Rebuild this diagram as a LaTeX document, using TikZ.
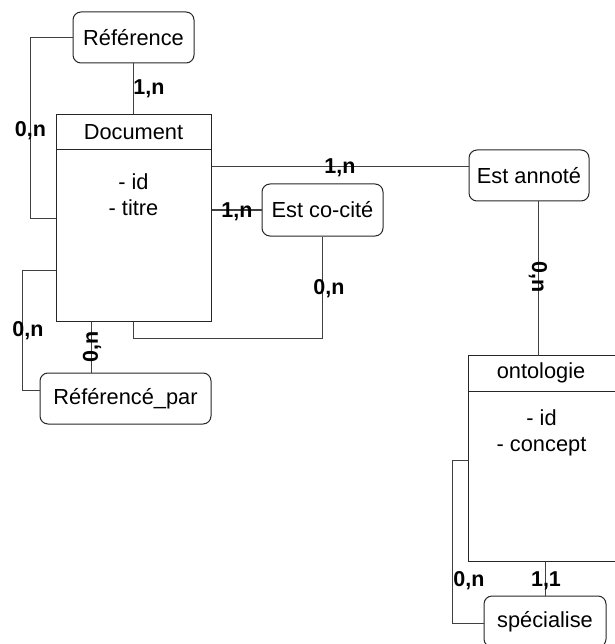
\documentclass[tikz,border=0pt]{standalone}
\usepackage{fontspec}
\setmainfont{Liberation Sans}
\usetikzlibrary{positioning, calc}
\tikzset{
  relation/.style={rectangle, rounded corners=8pt, draw=black!85, line width=1pt,
                 inner sep=0pt, minimum width=121pt, minimum height=51pt,
                 font=\fontsize{21.8}{26}\selectfont},
  entete/.style={rectangle, draw=black!85, line width=1pt, inner sep=0pt,
                 minimum height=35pt, font=\fontsize{21.8}{26}\selectfont},
  corps/.style={rectangle, draw=black!85, line width=1pt, inner sep=0pt,
                 minimum height=171pt},
  cadre/.style={draw=black!85, line width=1pt},
  attrs/.style={align=center, inner sep=0pt, font=\fontsize{21.8}{26}\selectfont},
  lien/.style={draw=black!75, line width=1pt},
  card/.style={inner sep=0pt, font=\fontsize{21.5}{24}\selectfont\bfseries},
}

\begin{document}
\begin{tikzpicture}[x=1pt, y=-1pt]
    \useasboundingbox (0,0) rectangle (614,644);
    %% Entite Document
    \node[entete, minimum width=155pt] (docHead) at (133.5,132.5) {Document};
    \node[corps, minimum width=155pt]  (docBody) at (133.5,235.5) {};
    \node[attrs] (docAttr) at (133.5,195) {- id\\- titre};
    %% Entite ontologie (coupee a droite : pas de bord droit)
    \node[entete, draw=none, minimum width=166pt] (ontoHead) at (552,373) {\hspace*{-22pt}ontologie};
    \node[corps, draw=none, minimum width=166pt]  (ontoBody) at (552,475.5) {};
    \draw[cadre] (ontoHead.north east) -- (ontoHead.north west)
      -- (ontoBody.south west) -- (ontoBody.south east);
    \draw[cadre] (ontoHead.south west) -- (ontoHead.south east);
    \node[attrs] (ontoAttr) at (541.5,433) {- id\\- concept};
    %% Relations
    \node[relation] (ref)    at (133.5,37.5)  {Référence};
    \node[relation, minimum height=52pt] (cocite) at (322.5,210) {Est co-cité};
    \node[relation, minimum width=120pt] (annot) at (529,175.5) {Est annoté};
    \node[relation, minimum width=171pt] (refpar) at (125.5,398.5) {Référencé\_par};
    \node[relation, minimum width=122pt] (spec) at (545,621.5) {spécialise};
    %% Points de coude
    \coordinate (refBend)    at (30.5,218);
    \coordinate (annotIn)    at (469,167);
    \coordinate (cociteBend) at (322.5,338);
    \coordinate (refparTop)  at (91,373);
    \coordinate (refparBend) at (22,390);
    \coordinate (docOut)     at (211,270);
    \coordinate (ontoTop)    at (538,356);
    \coordinate (ontoOut)    at (469,460);
    \coordinate (specBend)   at (452,623);
    %% Liens
    \draw[lien] (ref) -- (docHead);
    \draw[lien] (ref.west) -| (refBend) -- (refBend -| docBody.west);
    \draw[lien] (docBody.east |- annotIn) -- (annotIn);
    \draw[lien] (docBody.east |- cocite.west) -- (cocite.west);
    \draw[lien] (docBody.south) |- (cociteBend) -- (cocite.south);
    \draw[lien] (docBody.west |- docOut) -| (refparBend) -- (refparBend -| refpar.west);
    \draw[lien] (refparTop |- docBody.south) -- (refparTop);
    \draw[lien] (annot.south -| ontoTop) -- (ontoTop);
    \draw[lien] (ontoOut) -| (specBend) -- (specBend -| spec.west);
    \draw[lien] (ontoBody.south -| spec.north) -- (spec.north);
    %% Cardinalites
    \node[card] (cRef)     at (149,89)    {1,n};
    \node[card] (cRefDoc)  at (30.5,131)  {0,n};
    \node[card] (cAnnot)   at (340,167.5) {1,n};
    \node[card] (cCocite)  at (237,211.5) {1,n};
    \node[card] (cCocite2) at (329,289)   {0,n};
    \node[card] (cRefpar)  at (28,331)    {0,n};
    \node[card, rotate=90]  (cRefpar2) at (92,347)  {0,n};
    \node[card, rotate=-90] (cOnto)    at (538,277) {0,n};
    \node[card] (cSpec)    at (469,581)   {0,n};
    \node[card] (cSpec2)   at (546,581)   {1,1};
\end{tikzpicture}
\end{document}
